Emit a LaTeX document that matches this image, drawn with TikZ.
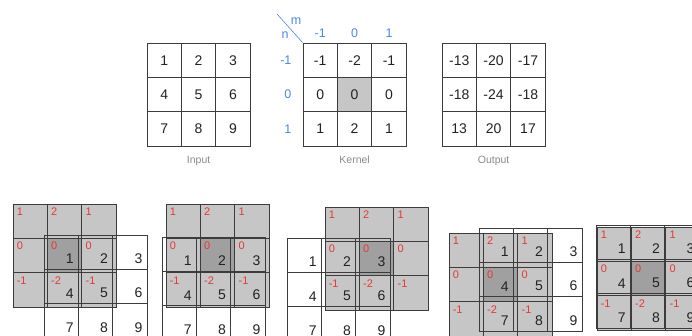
\documentclass[tikz,border=0pt]{standalone}
\usepackage{fontspec}
\setmainfont{Liberation Sans}
\usetikzlibrary{positioning}
\definecolor{cgrid}{HTML}{3C3C3C}
\definecolor{cnum}{HTML}{222222}
\definecolor{ckern}{HTML}{C6C6C6}
\definecolor{ccent}{HTML}{A0A0A0}
\definecolor{cidx}{HTML}{4E82F0}
\definecolor{cwt}{HTML}{E53935}
\definecolor{ccap}{HTML}{8A8A8A}
\tikzset{
  cell/.style={draw=cgrid, line width=0.8pt, minimum size=34.4pt, inner sep=0pt,
               font=\fontsize{14}{16}\selectfont, text=cnum},
  kcell/.style={cell, fill=ckern},
  ccell/.style={cell, fill=ccent},
  wt/.style={anchor=north west, inner sep=0pt, xshift=4pt, yshift=-4pt,
             text=cwt, font=\fontsize{11}{13}\selectfont},
  px/.style={anchor=south east, inner sep=0pt, xshift=-5pt, yshift=6pt,
             text=cnum, font=\fontsize{14}{16}\selectfont},
  idx/.style={text=cidx, inner sep=0pt, font=\fontsize{12.5}{14}\selectfont},
  caplab/.style={text=ccap, inner sep=0pt, font=\fontsize{10.5}{12}\selectfont},
}
% one sliding step: #1 name, (#2,#3) kernel corner, (#4,#5) input corner
\newcommand\convstep[5]{%
  \foreach \w [count=\i from 0] in {1,2,1,0,0,0,-1,-2,-1} {
    \pgfmathtruncatemacro\r{floor(\i/3)}
    \pgfmathtruncatemacro\c{mod(\i,3)}
    \ifnum\i=4 \def\sty{ccell}\else\def\sty{kcell}\fi
    \node[\sty] (#1k\i) at (#2+17.2+34.4*\c, #3+17.2+34.4*\r) {};
  }
  \foreach \v [count=\i from 0] in {1,...,9} {
    \pgfmathtruncatemacro\r{floor(\i/3)}
    \pgfmathtruncatemacro\c{mod(\i,3)}
    \node[cell] (#1i\i) at (#4+17.2+34.4*\c, #5+17.2+34.4*\r) {};
  }
  \foreach \w [count=\i from 0] in {1,2,1,0,0,0,-1,-2,-1}
    \node[wt] at (#1k\i.north west) {\w};
  \foreach \v [count=\i from 0] in {1,...,9}
    \node[px] at (#1i\i.south east) {\v};
}

\begin{document}
\begin{tikzpicture}[x=1pt, y=-1pt]
  \useasboundingbox (0,0) rectangle (692,336);
  \clip (0,0) rectangle (692,336);

  % input, kernel, output
  \foreach \v [count=\i from 0] in {1,...,9} {
    \pgfmathtruncatemacro\r{floor(\i/3)}
    \pgfmathtruncatemacro\c{mod(\i,3)}
    \node[cell] (in\i) at (147+17.2+34.4*\c, 43+17.2+34.4*\r) {\v};
  }
  \foreach \w [count=\i from 0] in {-1,-2,-1,0,0,0,1,2,1} {
    \pgfmathtruncatemacro\r{floor(\i/3)}
    \pgfmathtruncatemacro\c{mod(\i,3)}
    \ifnum\i=4 \def\sty{kcell}\else\def\sty{cell}\fi
    \node[\sty] (k\i) at (303+17.2+34.4*\c, 43+17.2+34.4*\r) {\w};
  }
  \foreach \v [count=\i from 0] in {-13,-20,-17,-18,-24,-18,13,20,17} {
    \pgfmathtruncatemacro\r{floor(\i/3)}
    \pgfmathtruncatemacro\c{mod(\i,3)}
    \node[cell] (out\i) at (442+17.2+34.4*\c, 43+17.2+34.4*\r) {\v};
  }
  \node[caplab, below=9pt of in7] (incap) {Input};
  \node[caplab, below=9pt of k7] (kcap) {Kernel};
  \node[caplab, below=9pt of out7] (outcap) {Output};

  % kernel indices
  \node[idx, above=5pt of k0] (m0) {-1};
  \node[idx, above=5pt of k1] (m1) {0};
  \node[idx, above=5pt of k2] (m2) {1};
  \node[idx, left=11pt of k0] (n0) {-1};
  \node[idx, left=11pt of k3] (n1) {0};
  \node[idx, left=11pt of k6] (n2) {1};
  \coordinate (slash) at (277,14);
  \draw[cidx, line width=0.6pt] (slash) -- (k0.north west);
  \node[idx] (mlab) at (296,21) {m};
  \node[idx] (nlab) at (285,35) {n};

  % sliding the kernel
  \convstep{a}{13}{204}{44}{235}
  \convstep{b}{166}{204}{162}{237}
  \convstep{c}{325}{207}{287}{238}
  \convstep{d}{449}{233}{479}{228}
  \convstep{e}{597}{227}{596}{225}
\end{tikzpicture}
\end{document}
